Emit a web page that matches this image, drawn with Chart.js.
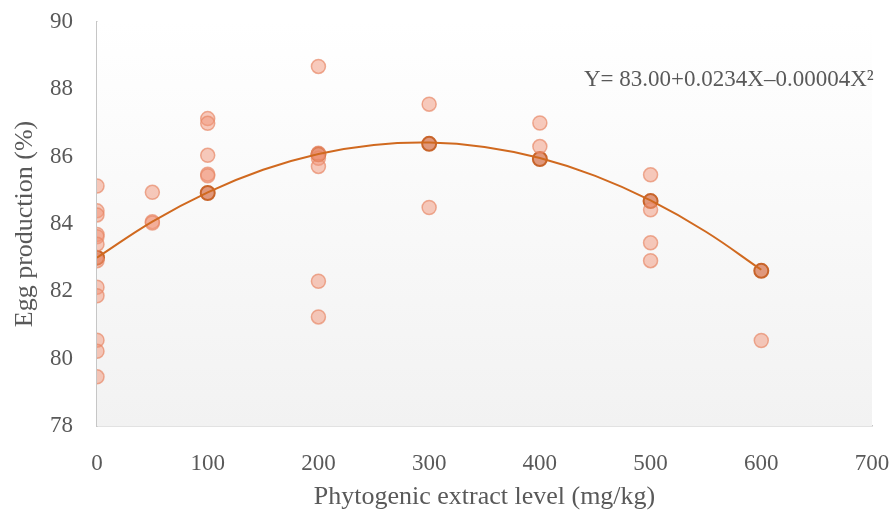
<!DOCTYPE html>
<html>
<head>
<meta charset="utf-8">
<script src="https://cdn.jsdelivr.net/npm/chart.js@4/dist/chart.umd.min.js"></script>
<style>
  html, body { margin: 0; padding: 0; background: #fff; }
  #wrap { width: 893px; height: 514px; }
</style>
</head>
<body>
<div id="wrap"><canvas id="chart"></canvas></div>
<script>
// replicate observations (light points)
const repX = [0, 0, 0, 0, 0, 0, 0, 0, 0, 0, 0, 0,
  50, 50, 50,
  100, 100, 100, 100, 100,
  200, 200, 200, 200, 200, 200,
  300, 300,
  400, 400,
  500, 500, 500, 500,
  600];
const repY = [85.13, 84.39, 84.27, 83.69, 83.62, 83.40, 82.91, 82.12, 81.87, 80.55, 80.22, 79.46,
  84.94, 84.07, 84.03,
  87.13, 86.99, 86.04, 85.48, 85.43,
  88.68, 86.10, 85.95, 85.71, 82.30, 81.24,
  87.56, 84.49,
  87.00, 86.30,
  85.46, 84.42, 83.44, 82.91,
  80.54];

// treatment means (dark points)
const meanX = [0, 100, 200, 300, 400, 500, 600];
const meanY = [83.00, 84.92, 86.07, 86.38, 85.93, 84.68, 82.61];

// fitted curve
const fitX = [0, 50, 100, 150, 200, 250, 300, 350, 400, 450, 500, 550, 600];
const fitY = [83.00, 84.07, 84.94, 85.61, 86.08, 86.35, 86.42, 86.29, 85.96, 85.43, 84.70, 83.77, 82.64];

const equation = 'Y= 83.00+0.0234X\u20130.00004X\u00B2';
const xTicks = [0, 100, 200, 300, 400, 500, 600, 700];
const yTicks = [78, 80, 82, 84, 86, 88, 90];

const FONT = '"Liberation Serif", "DejaVu Serif", serif';
const TXT = '#595959';

const toPts = (xs, ys) => xs.map((x, i) => ({ x: x, y: ys[i] }));

// plot area gradient + equation label
const plotBg = {
  id: 'plotBg',
  beforeDatasetsDraw(chart) {
    const { ctx, chartArea: a } = chart;
    const g = ctx.createLinearGradient(0, a.top, 0, a.bottom);
    g.addColorStop(0, '#ffffff');
    g.addColorStop(1, '#f2f2f2');
    ctx.save();
    ctx.fillStyle = g;
    ctx.fillRect(a.left, a.top, a.right - a.left, a.bottom - a.top);
    ctx.restore();
  },
  afterDraw(chart) {
    const { ctx } = chart;
    ctx.save();
    ctx.font = '23px ' + FONT;
    ctx.fillStyle = TXT;
    ctx.textAlign = 'left';
    ctx.textBaseline = 'middle';
    ctx.fillText(equation, 584, 80);
    ctx.restore();
  }
};

new Chart(document.getElementById('chart'), {
  type: 'scatter',
  data: {
    datasets: [
      {
        type: 'line',
        label: 'fit',
        data: toPts(fitX, fitY),
        borderColor: '#d0691f',
        borderWidth: 2,
        pointRadius: 0,
        tension: 0.4,
        fill: false,
        order: 0
      },
      {
        label: 'replicates',
        data: toPts(repX, repY),
        backgroundColor: 'rgba(242,150,122,0.5)',
        borderColor: 'rgba(232,134,100,0.68)',
        borderWidth: 1.5,
        pointRadius: 7,
        order: 1
      },
      {
        label: 'means',
        data: toPts(meanX, meanY),
        backgroundColor: '#e0987c',
        borderColor: '#c8642a',
        borderWidth: 2,
        pointRadius: 7,
        order: 2
      }
    ]
  },
  options: {
    responsive: true,
    maintainAspectRatio: false,
    animation: false,
    layout: { padding: { top: 22, right: 21, left: 8, bottom: 0 } },
    plugins: {
      legend: { display: false },
      tooltip: { enabled: false }
    },
    scales: {
      x: {
        type: 'linear',
        min: 0,
        max: 700,
        afterBuildTicks: (s) => { s.ticks = xTicks.map(v => ({ value: v })); },
        afterFit: (s) => { s.height = 88; s.paddingLeft = 0; s.paddingRight = 0; },
        grid: { display: false },
        border: { color: '#c6c6c6', width: 1.5 },
        ticks: { color: TXT, font: { family: FONT, size: 23 }, padding: 16 },
        title: {
          display: true,
          text: 'Phytogenic extract level (mg/kg)',
          color: TXT,
          font: { family: FONT, size: 26 },
          padding: { top: 0, bottom: 1 }
        }
      },
      y: {
        min: 78,
        max: 90,
        afterBuildTicks: (s) => { s.ticks = yTicks.map(v => ({ value: v })); },
        afterFit: (s) => { s.width = 89; s.paddingTop = 0; s.paddingBottom = 0; },
        grid: { display: false },
        border: { color: '#c6c6c6', width: 1.5 },
        ticks: { color: TXT, font: { family: FONT, size: 23 }, padding: 16 },
        title: {
          display: true,
          text: 'Egg production (%)',
          color: TXT,
          font: { family: FONT, size: 26 },
          padding: { top: 2, bottom: 0 }
        }
      }
    }
  },
  plugins: [plotBg]
});
</script>
</body>
</html>
